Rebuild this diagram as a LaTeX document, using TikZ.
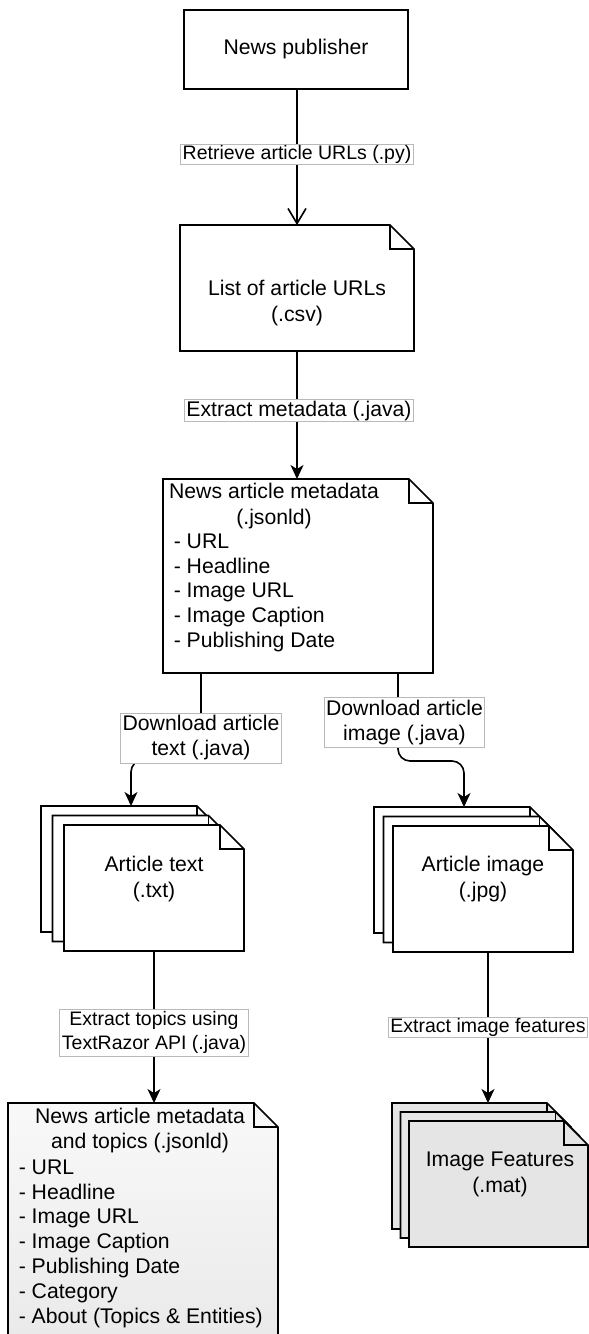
\documentclass[tikz,border=0pt]{standalone}
\usepackage{fontspec}
\setmainfont{Liberation Sans}
\usetikzlibrary{arrows.meta,calc}
\newlength\foldsz
\setlength\foldsz{24pt}
\newcommand\notedraw[2]{%
  \draw[#2] (#1.north west) -- ([xshift=-\foldsz]#1.north east) -- ([yshift=-\foldsz]#1.north east) -- (#1.south east) -- (#1.south west) -- cycle;
  \draw ([xshift=-\foldsz]#1.north east) -- ([xshift=-\foldsz,yshift=-\foldsz]#1.north east) -- ([yshift=-\foldsz]#1.north east);
}
\begin{document}
\begin{tikzpicture}[x=1pt,y=-1pt, line width=1.6pt, line join=miter,
  nf/.style={font=\fontsize{21.2}{25}\selectfont},
  shp/.style={inner sep=0pt, outer sep=0pt},
  docT/.style={nf, inner sep=0pt, align=center, anchor=north},
  docL/.style={font=\fontsize{21.2}{24.8}\selectfont, inner sep=0pt, align=left, anchor=north west},
  lbl/.style={draw=gray!55, line width=0.8pt, fill=white, sharp corners, inner xsep=2pt, inner ysep=1pt, align=center,
    font=\fontsize{19.5}{24.5}\selectfont},
  lblbig/.style={lbl, font=\fontsize{21.2}{25}\selectfont},
  arr/.style={-{Stealth[length=14pt,width=13pt,inset=4pt]}},
  openarr/.style={-{Straight Barb[length=15pt,width=18pt]}},
  paper/.style={fill=white},
  greypaper/.style={fill=gray!20}]
\useasboundingbox (0,0) rectangle (589,1334);
\fill[white] (0,0) rectangle (589,1334);

% ---------- shapes ----------
\node[draw, shp, minimum width=224pt, minimum height=79pt, nf] (pub) at (296,49.5) {News publisher};

\node[shp, minimum width=234pt, minimum height=126pt] (list) at (297,288) {};
\notedraw{list}{paper}
\node[docT, font=\fontsize{21.2}{26}\selectfont] (listT) at (297,276) {\strut List of article URLs\\(.csv)};

\node[shp, minimum width=270pt, minimum height=194pt] (meta) at (298,576) {};
\notedraw{meta}{paper}
\node[docT, font=\fontsize{21.2}{26}\selectfont] (metaT) at (274,479.1) {\strut News article metadata\\(.jsonld)};
\node[docL] (metaL) at (173,530.1) {\strut - URL\\- Headline\\- Image URL\\- Image Caption\\- Publishing Date};

% article text stack
\node[shp, minimum width=180pt, minimum height=126pt] (txtb) at (131,869) {};
\node[shp, minimum width=180pt, minimum height=126pt] (txtm) at (142.5,878.5) {};
\node[shp, minimum width=180pt, minimum height=126pt] (txtf) at (154,888) {};
\notedraw{txtb}{paper}
\notedraw{txtm}{paper}
\notedraw{txtf}{paper}
\node[docT, font=\fontsize{21.2}{26}\selectfont] (txtT) at (154,852.1) {\strut Article text\\(.txt)};

% article image stack
\node[shp, minimum width=180pt, minimum height=126pt] (imgb) at (464,870) {};
\node[shp, minimum width=180pt, minimum height=126pt] (imgm) at (473.5,879.5) {};
\node[shp, minimum width=180pt, minimum height=126pt] (imgf) at (483,889) {};
\notedraw{imgb}{paper}
\notedraw{imgm}{paper}
\notedraw{imgf}{paper}
\node[docT, font=\fontsize{21.2}{26}\selectfont] (imgT) at (483,852.1) {\strut Article image\\(.jpg)};

% final metadata + topics
\node[shp, minimum width=270pt, minimum height=244pt] (fin) at (143,1225) {};
\notedraw{fin}{top color=gray!5, bottom color=gray!17}
\node[docT] (finT) at (140,1105.1) {\strut News article metadata\\and topics (.jsonld)};
\node[docL] (finL) at (18,1156.1) {\strut - URL\\- Headline\\- Image URL\\- Image Caption\\- Publishing Date\\- Category\\- About (Topics \& Entities)};

% image features stack
\node[shp, minimum width=179pt, minimum height=126pt] (featb) at (481.5,1166) {};
\node[shp, minimum width=179pt, minimum height=126pt] (featm) at (490,1175) {};
\node[shp, minimum width=179pt, minimum height=126pt] (featf) at (498.5,1184) {};
\notedraw{featb}{greypaper}
\notedraw{featm}{greypaper}
\notedraw{featf}{greypaper}
\node[docT, font=\fontsize{21.2}{26}\selectfont] (featT) at (500,1147.1) {\strut Image Features\\(.mat)};

% ---------- connectors ----------
\draw[openarr] ([xshift=1pt]pub.south) -- node[lbl, pos=0.478] {Retrieve article URLs (.py)} ([xshift=1pt]pub.south |- list.north);
\draw[arr] (list.south) -- node[lblbig, pos=0.465, xshift=2pt] {Extract metadata (.java)} (list.south |- meta.north);
\draw[arr, rounded corners=12pt] ([xshift=-97pt]meta.south) -- node[lblbig, pos=0.747, minimum height=50pt] {Download article\\text (.java)} ++(0,87) -| (txtb.north);
\draw[arr, rounded corners=12pt] ([xshift=100pt]meta.south) -- node[lblbig, pos=0.557, xshift=6.5pt, minimum height=50pt] {Download article\\image (.java)} ++(0,88) -| (imgb.north);
\draw[arr] (txtf.south) -- node[lbl, pos=0.536, minimum height=47pt] {Extract topics using\\TextRazor API (.java)} (txtf.south |- fin.north);
\draw[arr] ([xshift=5pt]imgf.south) -- node[lbl, pos=0.5] {Extract image features} ([xshift=5pt]imgf.south |- featb.north);
\end{tikzpicture}
\end{document}
